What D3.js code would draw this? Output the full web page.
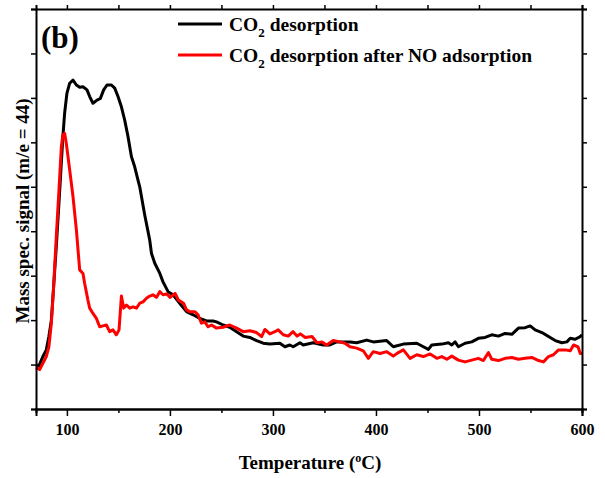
<!DOCTYPE html>
<html>
<head>
<meta charset="utf-8">
<script src="https://cdn.jsdelivr.net/npm/d3@7"></script>
<style>
    body { margin: 0; background: #fff; }
    svg text { font-family: "Liberation Serif", "Times New Roman", serif; font-weight: bold; }
</style>
</head>
<body>
<div id="chart"></div>
<script>
// temperature (C) and mass spec signal (arb. units)
var tempBlack = [70, 72.8, 76.7, 80, 82.5, 84.9, 87.1, 89.7, 92.3, 94.6, 96.1, 97.8, 100, 102.7, 105.9, 109.2, 112.4, 115.6, 119.5, 122.1,
    125.3, 128.6, 132.5, 135.7, 138.9, 143.2, 146.4, 149.6, 152.9, 156.1, 159.3, 162.6, 165.8, 169, 170.7, 175.5, 180.4, 182.1, 185.3, 190.2,
    193.3, 198.2, 203, 209.5, 216.1, 222.5, 229, 235.5, 241.9, 245.2, 251.6, 258.1, 264.7, 271.1, 277.6, 284.1, 290.5, 297, 306.7, 311.6,
    316.4, 319.7, 326.2, 329.4, 339.1, 348.8, 355.3, 361.8, 374.8, 381.3, 391, 397.4, 410.4, 416.8, 426.6, 439.6, 446, 450.9, 454.2, 463.9,
    470.3, 473.6, 476.8, 480, 486.5, 493, 499.4, 505.9, 512.4, 518.9, 525.4, 531.9, 538.3, 544.8, 549.7, 554.5, 561.1, 567.5, 574, 580.5,
    585.3, 588.6, 593.4, 598.3, 600];
var signalBlack = [0.99, 0.97, 1.18, 1.33, 1.63, 2.0, 2.75, 3.65, 4.64, 5.54, 6.13, 6.66, 7.1, 7.33, 7.4, 7.29, 7.24, 7.25, 7.18, 7.03,
    6.88, 6.94, 6.99, 7.18, 7.29, 7.29, 7.22, 7.03, 6.8, 6.5, 6.13, 5.68, 5.45, 5.15, 5.0, 4.37, 3.8, 3.5, 3.28, 3.05,
    2.86, 2.64, 2.57, 2.38, 2.19, 2.12, 2.04, 1.98, 1.98, 1.96, 1.89, 1.84, 1.74, 1.64, 1.61, 1.54, 1.48, 1.46, 1.48, 1.4,
    1.44, 1.4, 1.49, 1.44, 1.49, 1.44, 1.44, 1.51, 1.51, 1.49, 1.55, 1.51, 1.54, 1.4, 1.46, 1.48, 1.4, 1.34, 1.44, 1.46,
    1.49, 1.44, 1.51, 1.4, 1.48, 1.51, 1.59, 1.61, 1.67, 1.64, 1.7, 1.68, 1.82, 1.83, 1.87, 1.78, 1.72, 1.63, 1.54, 1.49,
    1.51, 1.59, 1.57, 1.63, 1.67];

var tempRed = [70, 73.5, 76.7, 80, 82.5, 84.9, 87.1, 89.7, 92.3, 94.6, 96.1, 97.8, 99.4, 102.7, 105.9, 109.2, 112.4, 115.6, 117.2, 120.4,
    122.1, 125.3, 128.6, 131.8, 135, 138.3, 141.5, 144.7, 148, 150.6, 152.9, 155.1, 157.8, 161, 164.2, 167.5, 170.7, 173.9, 177.2, 180.4,
    183.6, 186.9, 190.1, 193.3, 197, 200.2, 205, 208.3, 213.2, 216.1, 219.3, 224.1, 227.3, 230.6, 233.8, 237.1, 240.4, 245.2, 251.6, 258.1,
    264.7, 271.1, 277.6, 284.1, 289, 292.2, 297, 303.5, 305.1, 310, 314.8, 319.5, 323.4, 326.6, 331.4, 337.9, 342.8, 347.7, 352.1, 358.5,
    365, 369.9, 374.8, 381.3, 387.7, 392.6, 397.4, 404, 410.4, 416.8, 421.7, 426.6, 433.1, 439.6, 446, 452.6, 459.1, 463.9, 468.8, 473.6,
    480, 486.5, 493, 499.4, 504.3, 509.2, 512.4, 518.9, 525.4, 531.9, 538.3, 544.8, 551.3, 557.8, 562.6, 567.5, 572.3, 577.2, 583.7, 588.6,
    591.8, 596.1, 598.3, 600];
var signalRed = [0.93, 0.89, 1.03, 1.18, 1.4, 1.93, 2.75, 3.88, 4.93, 5.9, 6.17, 6.2, 5.98, 5.38, 4.78, 4.03, 3.13, 3.05, 2.83, 2.45,
    2.27, 2.15, 2.04, 1.85, 1.87, 1.89, 1.74, 1.78, 1.67, 1.78, 2.54, 2.27, 2.34, 2.27, 2.3, 2.27, 2.38, 2.41, 2.49, 2.54,
    2.57, 2.51, 2.64, 2.57, 2.59, 2.51, 2.6, 2.45, 2.38, 2.23, 2.19, 2.19, 2.12, 1.93, 1.96, 1.85, 1.89, 1.82, 1.84, 1.89,
    1.82, 1.74, 1.76, 1.72, 1.63, 1.79, 1.69, 1.76, 1.78, 1.67, 1.64, 1.74, 1.64, 1.69, 1.61, 1.63, 1.49, 1.51, 1.44, 1.54,
    1.51, 1.48, 1.4, 1.37, 1.31, 1.14, 1.29, 1.25, 1.29, 1.19, 1.27, 1.33, 1.14, 1.22, 1.18, 1.24, 1.14, 1.18, 1.12, 1.19,
    1.1, 1.06, 1.1, 1.14, 1.09, 1.27, 1.12, 1.09, 1.14, 1.16, 1.12, 1.14, 1.16, 1.09, 1.06, 1.18, 1.22, 1.33, 1.33, 1.31,
    1.44, 1.4, 1.25, 1.25];

var xTicks = [100, 200, 300, 400, 500, 600];
var xMinorTicks = [150, 250, 350, 450, 550];
var yTicks = [0, 1, 2, 3, 4, 5, 6, 7, 8, 9];

var seriesNames = ["CO|2| desorption", "CO|2| desorption after NO adsorption"];
var seriesColors = ["#000000", "#ff0000"];

var width = 605, height = 478;
var margin = {left: 36, right: 23, top: 9, bottom: 69};

var svg = d3.select("#chart").append("svg")
    .attr("width", width)
    .attr("height", height);

var x = d3.scaleLinear().domain([70, 600]).range([margin.left, width - margin.right]);
var y = d3.scaleLinear().domain([0, 9]).range([height - margin.bottom, margin.top]);

function drawAxes() {
    var bottom = svg.append("g").attr("transform", "translate(0," + y(0) + ")")
        .call(d3.axisBottom(x).tickValues(xTicks).tickSize(7).tickFormat(d3.format("d")));
    svg.append("g").attr("transform", "translate(0," + y(0) + ")")
        .call(d3.axisBottom(x).tickValues(xMinorTicks).tickSize(4).tickFormat(""));
    svg.append("g").attr("transform", "translate(0," + y(9) + ")")
        .call(d3.axisTop(x).tickValues(xTicks.concat(xMinorTicks)).tickSize(4).tickFormat(""));
    svg.append("g").attr("transform", "translate(" + x(70) + ",0)")
        .call(d3.axisLeft(y).tickValues(yTicks).tickSize(5).tickFormat(""));
    svg.append("g").attr("transform", "translate(" + x(600) + ",0)")
        .call(d3.axisRight(y).tickValues(yTicks).tickSize(5).tickFormat(""));

    svg.selectAll(".domain").attr("stroke", "#000").attr("stroke-width", 2);
    svg.selectAll(".tick line").attr("stroke", "#000").attr("stroke-width", 1.5);

    bottom.selectAll(".tick text")
        .attr("y", 15)
        .attr("font-size", "16px")
        .attr("font-family", "Liberation Serif, Times New Roman, serif")
        .attr("font-weight", "bold")
        .attr("fill", "#000");
}

function drawLine(tx, sy, color) {
    var pts = tx.map(function(t, i) { return [t, sy[i]]; });
    var line = d3.line()
        .x(function(d) { return x(d[0]); })
        .y(function(d) { return y(d[1]); });
    svg.append("path")
        .datum(pts)
        .attr("d", line)
        .attr("fill", "none")
        .attr("stroke", color)
        .attr("stroke-width", 3)
        .attr("stroke-linejoin", "round");
}

// text with a subscript piece, marked with |..|
function subText(sel, str, subSize) {
    var parts = str.split("|");
    parts.forEach(function(p, i) {
        if (i % 2 === 1) {
            sel.append("tspan").attr("font-size", subSize).attr("dy", 6).text(p);
        } else {
            var ts = sel.append("tspan").text(p);
            if (i > 0) ts.attr("dy", -6);
        }
    });
}

function drawLabels() {
    svg.append("text")
        .attr("x", 41)
        .attr("y", 48)
        .attr("font-size", "31px")
        .text("(b)");

    var xt = svg.append("text")
        .attr("x", (x(70) + x(600)) / 2 + 1)
        .attr("y", 469)
        .attr("text-anchor", "middle")
        .attr("font-size", "19px");
    xt.append("tspan").text("Temperature (");
    xt.append("tspan").attr("font-size", "12px").attr("dy", -7).text("o");
    xt.append("tspan").attr("dy", 7).text("C)");

    svg.append("text")
        .attr("transform", "translate(29," + 211 + ") rotate(-90)")
        .attr("text-anchor", "middle")
        .attr("font-size", "19px")
        .text("Mass spec. signal (m/e = 44)");
}

function drawLegend() {
    seriesNames.forEach(function(name, i) {
        var ly = 24 + i * 31;
        svg.append("line")
            .attr("x1", 178).attr("x2", 222)
            .attr("y1", ly).attr("y2", ly)
            .attr("stroke", seriesColors[i])
            .attr("stroke-width", 3);
        var t = svg.append("text")
            .attr("x", 229)
            .attr("y", ly + 7)
            .attr("font-size", "19.5px");
        subText(t, name, "13px");
    });
}

drawLine(tempBlack, signalBlack, seriesColors[0]);
drawLine(tempRed, signalRed, seriesColors[1]);
drawAxes();
drawLabels();
drawLegend();
</script>
</body>
</html>
